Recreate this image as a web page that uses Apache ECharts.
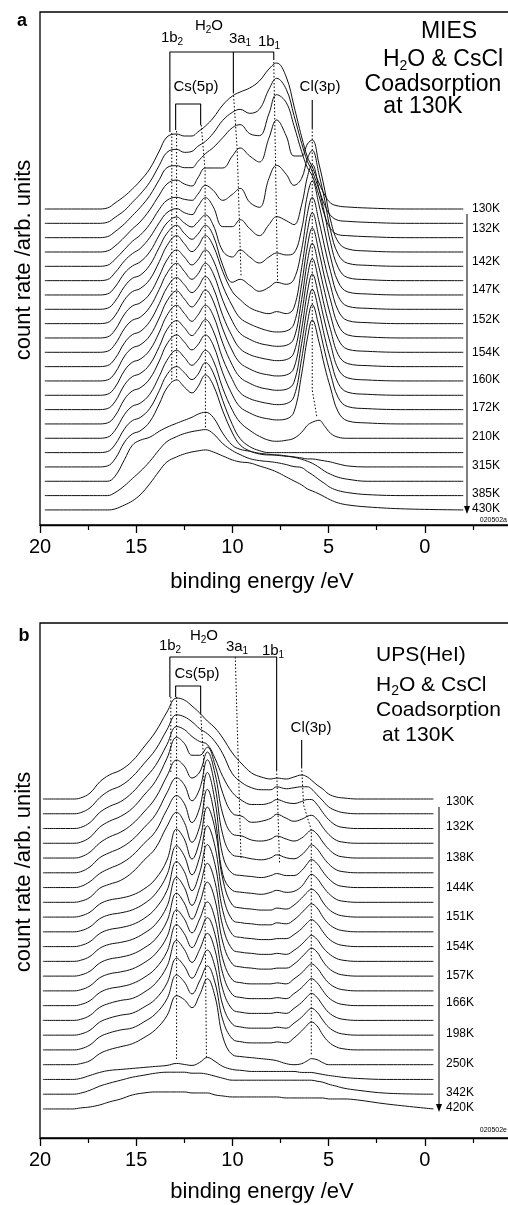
<!DOCTYPE html>
<html>
<head>
<meta charset="utf-8">
<script src="https://cdn.jsdelivr.net/npm/echarts@6/dist/echarts.min.js"></script>
<style>
  html, body { margin: 0; padding: 0; background: #fff; }
  #chart { width: 508px; height: 1205px; }
</style>
</head>
<body>
<div id="chart"></div>
<script>
const ENERGY_A = [19.75, 17, 16.5, 16.1, 15.6, 15.2, 14.8, 14.3, 13.8, 13.4, 12.9, 12.5, 12.1, 11.8, 11.4, 11, 10.5, 10, 9.6, 9.1, 8.6, 8.1, 7.7, 7.2, 6.8, 6.4, 6.1, 5.85, 5.5, 5.2, 4.9, 4.5, 4, 3, 1, -2];
const ENERGY_B = [19.85, 18.3, 17.9, 17.4, 16.9, 16.4, 15.8, 15.2, 14.6, 14, 13.4, 12.9, 12.5, 12.1, 11.7, 11.3, 10.9, 10.5, 10, 9.5, 9, 8.5, 8, 7.7, 7.2, 6.8, 6.4, 6.1, 5.9, 5.6, 5.3, 5, 4.6, 4.2, 3.5, 2, -0.45];

// MIES spectra, top to bottom (height above each curve's own baseline)
const MIES_01 = [0,0,1,6,13,20,28,40,58,72,75,73,73,77,83,91,104,113,117,121,128,140,146,132,103,72,52,42,26,14,6,3,2,1,0,0];
const MIES_02 = [0,0,1,6,13,21,29,41,58,71,74,71,72,77,82,90,103,111,114,110,114,134,145,134,108,80,62,52,34,18,8,3,2,1,0,0];
const MIES_03 = [0,0,1,6,14,22,30,42,58,70,72,70,70,76,84,90,100,110,113,104,102,124,143,135,112,86,70,62,42,22,9,3,2,1,0,0];
const MIES_04 = [0,0,1,6,15,23,30,42,57,68,72,68,66,74,84,84,84,96,104,96,90,114,132,116,96,96,108,112,88,62,32,10,3,1,0,0];
const MIES_05 = [0,0,1,7,17,25,31,42,57,66,69,67,66,72,81,76,66,72,78,64,59,88,101,92,81,88,108,116,92,66,36,12,3,1,0,0];
const MIES_06 = [0,0,1,8,20,27,32,43,58,68,72,68,66,74,83,74,54,54,61,52,45,56,64,60,56,76,104,116,92,66,38,13,3,1,0,0];
const MIES_07 = [0,0,1,8,22,29,33,43,60,72,78,72,68,73,80,70,44,38,45,38,32,38,42,40,42,66,100,114,90,64,38,13,3,1,0,0];
const MIES_08 = [0,0,1,8,23,31,34,44,62,76,84,76,70,75,84,74,44,27,30,24,18,22,27,25,30,60,96,112,88,62,38,13,3,1,0,0];
const MIES_09 = [0,0,1,8,24,32,35,44,62,78,88,80,72,77,88,78,52,32,24,16,12,10,12,10,16,56,93,111,86,60,38,13,3,1,0,0];
const MIES_10 = [0,0,1,8,24,32,35,44,62,78,88,81,73,78,88,78,52,32,20,14,10,7,6,7,14,54,92,110,86,60,38,13,3,1,0,0];
const MIES_11 = [0,0,1,8,24,32,35,45,63,79,89,81,73,78,89,79,52,31,19,13,9,7,6,7,14,53,91,109,85,60,37,13,3,1,0,0];
const MIES_12 = [0,0,1,8,24,32,35,45,63,79,89,82,74,79,90,79,51,30,18,12,9,7,6,7,14,53,90,108,85,59,37,12,3,1,0,0];
const MIES_13 = [0,0,1,8,25,33,36,45,63,80,90,82,74,80,91,80,52,30,18,12,8,6,5,6,13,52,89,107,84,59,37,12,3,1,0,0];
const MIES_14 = [0,0,1,8,25,33,36,45,63,80,90,82,74,80,90,80,52,30,18,12,8,6,5,6,13,52,88,106,84,58,36,12,3,1,0,0];
const MIES_15 = [0,0,1,8,25,33,36,45,63,80,89,82,74,80,90,79,51,30,17,11,8,6,5,6,13,51,87,105,83,58,36,12,3,1,0,0];
const MIES_16 = [0,0,1,8,25,33,36,45,63,80,89,82,74,79,89,79,51,29,17,11,7,5,4,5,12,50,86,104,82,57,36,12,3,1,0,0];
const MIES_17 = [0,0,1,8,24,32,35,44,62,78,88,81,73,78,88,78,50,28,16,8,2,-2,-3,-2,0,6,13,16,18,12,5,1,0,0,0,0];
const MIES_18 = [0,0,1,8,24,32,35,44,62,78,86,80,73,78,90,80,52,28,14,6,2,0,0,0,0,0,0,0,0,0,0,0,0,0,0,0];
const MIES_19 = [0,0,1,8,25,33,36,45,63,79,87,80,74,80,92,82,56,34,22,16,13,12,12,11,10,9,8,8,7,6,5,3,1,0,0,0];
const MIES_20 = [0,0,0,5,22,36,41,44,50,54,58,61,64,67,69,64,48,36,32,30,28,27,26,25,24,22,20,18,14,10,7,4,2,0,0,0];
const MIES_21 = [0,0,0,3,10,17,24,34,46,54,59,62,64,65,66,62,52,45,41,37,35,34,33,31,29,28,24,21,16,12,8,5,3,1,0,0];
const MIES_22 = [0,0,0,1,5,9,15,26,39,48,53,56,58,59,60,58,54,50,48,47,44,41,38,33,29,25,21,19,16,13,10,7,5,3,1,0];

// UPS(HeI) spectra, top to bottom
const UPS_01 = [0,0,1,6,17,24,29,38,52,67,87,101,99,93,86,78,71,61,46,35,26,22,20,21,20,22,24,22,19,14,10,5,2,1,0,0,0];
const UPS_02 = [0,0,1,6,16,23,28,37,50,64,84,99,97,92,85,80,72,60,40,31,26,24,24,27,25,26,27,27,25,19,13,7,3,1,0,0,0];
const UPS_03 = [0,0,1,6,16,22,27,36,49,63,84,102,99,92,87,84,70,52,36,28,24,24,26,29,26,25,27,29,29,24,16,9,3,1,0,0,0];
const UPS_04 = [0,0,1,6,16,22,27,35,48,62,85,106,100,88,88,96,78,50,30,27,21,22,25,29,25,22,24,27,28,24,16,9,3,1,0,0,0];
const UPS_05 = [0,0,1,6,15,21,26,34,46,60,82,98,92,80,86,106,84,44,24,22,18,17,19,22,19,17,20,25,28,24,16,9,3,1,0,0,0];
const UPS_06 = [0,0,1,6,15,20,25,33,45,58,80,95,88,72,84,113,86,38,18,16,14,13,15,18,15,14,18,24,28,24,16,9,3,1,0,0,0];
const UPS_07 = [0,0,1,6,14,19,24,32,44,56,78,92,84,65,80,115,86,32,14,12,11,10,12,14,12,12,17,24,28,24,16,9,3,1,0,0,0];
const UPS_08 = [0,0,1,5,14,18,22,30,42,54,76,90,80,60,76,113,84,28,12,10,9,8,10,12,10,11,16,24,28,24,16,9,3,1,0,0,0];
const UPS_09 = [0,0,1,5,13,17,19,22,28,38,57,88,78,58,76,110,88,38,12,9,8,7,7,9,8,12,19,25,28,24,15,8,3,1,0,0,0];
const UPS_10 = [0,0,1,5,13,17,19,22,28,38,57,86,76,57,75,106,85,37,12,9,8,7,7,9,8,12,19,25,28,24,15,8,3,1,0,0,0];
const UPS_11 = [0,0,1,5,13,17,19,22,28,38,56,85,75,56,74,102,82,36,12,9,8,7,7,8,8,12,18,24,27,23,15,8,3,1,0,0,0];
const UPS_12 = [0,0,1,5,13,17,19,22,28,37,55,84,74,56,74,98,79,35,12,9,8,7,7,8,7,11,17,23,26,22,14,8,3,1,0,0,0];
const UPS_13 = [0,0,1,5,13,17,19,22,28,37,55,83,73,57,73,94,76,34,12,9,8,7,7,8,8,12,19,25,28,24,15,8,3,1,0,0,0];
const UPS_14 = [0,0,1,5,13,17,19,22,28,37,54,81,72,58,72,89,72,32,11,8,7,7,7,8,7,12,18,24,27,23,15,8,3,1,0,0,0];
const UPS_15 = [0,0,1,5,13,17,19,22,28,37,54,81,72,58,72,88,71,32,11,8,7,7,7,8,7,12,18,24,27,23,15,8,3,1,0,0,0];
const UPS_16 = [0,0,1,5,13,17,20,22,28,37,54,80,71,58,71,87,70,31,11,8,7,7,7,8,7,12,18,24,27,23,15,8,3,1,0,0,0];
const UPS_17 = [0,0,1,5,13,17,20,22,28,36,52,77,69,57,70,85,68,30,11,8,7,7,7,8,7,12,18,24,27,23,15,8,3,1,0,0,0];
const UPS_18 = [0,0,1,5,13,17,20,22,28,36,51,75,68,56,69,84,67,30,11,8,7,7,7,8,7,12,19,25,28,24,15,8,3,1,0,0,0];
const UPS_19 = [0,0,1,4,11,15,18,21,27,35,49,69,65,57,70,86,68,28,10,8,7,6,5,4,1,0,1,4,6,5,2,0,0,0,0,0,0];
const UPS_20 = [0,0,1,4,7,9,10,11,12,13,14,16,15,14,17,22,18,13,10,9,8,8,8,8,8,8,7,7,7,6,5,4,3,2,1,0,0];
const UPS_21 = [0,0,1,4,8,11,14,17,19,21,22,22,22,21,21,20,18,16,14,14,14,14,14,14,14,14,14,14,14,13,12,10,8,6,4,1,0];
const UPS_22 = [0,0,1,2,4,7,10,14,16,17,17,17,17,16,16,16,14,13,12,12,12,12,12,12,11,11,11,11,11,11,11,10,10,10,9,5,0];

const CURVES_A = [MIES_01, MIES_02, MIES_03, MIES_04, MIES_05, MIES_06, MIES_07, MIES_08, MIES_09, MIES_10, MIES_11,
                  MIES_12, MIES_13, MIES_14, MIES_15, MIES_16, MIES_17, MIES_18, MIES_19, MIES_20, MIES_21, MIES_22];
const CURVES_B = [UPS_01, UPS_02, UPS_03, UPS_04, UPS_05, UPS_06, UPS_07, UPS_08, UPS_09, UPS_10, UPS_11,
                  UPS_12, UPS_13, UPS_14, UPS_15, UPS_16, UPS_17, UPS_18, UPS_19, UPS_20, UPS_21, UPS_22];

// temperature labels on the right and the curve row they sit at
const TEMPS_A = ['130K', '132K', '142K', '147K', '152K', '154K', '160K', '172K', '210K', '315K', '385K', '430K'];
const TEMP_ROWS_A = [0, 1.4, 3.7, 5.6, 7.7, 10, 11.9, 13.9, 15.9, 17.9, 19.9, 20.9];
const TEMPS_B = ['130K', '132K', '138K', '144K', '151K', '154K', '157K', '166K', '198K', '250K', '342K', '420K'];
const TEMP_ROWS_B = [0.2, 1.9, 4.0, 6.0, 8.0, 10.0, 12.0, 13.8, 15.9, 17.9, 19.9, 20.9];

const FONT = 'Liberation Sans, Arial, Helvetica, sans-serif';

// panel geometry (pixels)
const PANEL_A = { top: 12, bottom: 525, first: 209, step: 14.33 };
const PANEL_B = { top: 623, bottom: 1138, first: 799, step: 14.76 };

const chart = echarts.init(document.getElementById('chart'), null, { renderer: 'canvas' });

function curveSeries(energy, curves, panel, idx) {
  const top = panel.bottom - panel.first;
  return curves.map((c, i) => ({
    type: 'line',
    xAxisIndex: idx,
    yAxisIndex: idx,
    data: energy.map((e, j) => [e, top - i * panel.step + c[j]]),
    smooth: 0.4,
    symbol: 'none',
    silent: true,
    z: 2,
    lineStyle: { color: '#111', width: 1 }
  }));
}

// guide lines (brackets and dotted peak markers), points given as [eV, pixel y]
function guide(points, panel, idx, dotted) {
  return {
    type: 'line',
    xAxisIndex: idx,
    yAxisIndex: idx,
    data: points.map(p => [p[0], panel.bottom - p[1]]),
    symbol: 'none',
    silent: true,
    z: 3,
    lineStyle: { color: '#000', width: dotted ? 1 : 1.1, type: dotted ? [1.5, 2] : 'solid' }
  };
}

const guidesA = [
  guide([[13.25, 132], [13.25, 52], [7.85, 52], [7.85, 60]], PANEL_A, 0, false),
  guide([[9.95, 52], [9.95, 92]], PANEL_A, 0, false),
  guide([[12.95, 130], [12.95, 104], [11.65, 104], [11.65, 125]], PANEL_A, 0, false),
  guide([[5.85, 100], [5.85, 128]], PANEL_A, 0, false),
  guide([[13.15, 133], [13.15, 382]], PANEL_A, 0, true),
  guide([[12.9, 131], [12.9, 380]], PANEL_A, 0, true),
  guide([[11.62, 125], [11.42, 170], [11.4, 428]], PANEL_A, 0, true),
  guide([[9.95, 92], [9.75, 150], [9.55, 277]], PANEL_A, 0, true),
  guide([[7.85, 62], [7.65, 283]], PANEL_A, 0, true),
  guide([[5.85, 128], [5.85, 390], [5.6, 418]], PANEL_A, 0, true)
];
const guidesB = [
  guide([[13.25, 697], [13.25, 657], [7.7, 657], [7.7, 770]], PANEL_B, 1, false),
  guide([[12.95, 697], [12.95, 686], [11.65, 686], [11.65, 713]], PANEL_B, 1, false),
  guide([[6.4, 740], [6.4, 767]], PANEL_B, 1, false),
  guide([[13.2, 697], [13.2, 773]], PANEL_B, 1, true),
  guide([[12.9, 697], [12.9, 1060]], PANEL_B, 1, true),
  guide([[11.65, 713], [11.5, 757], [11.35, 1057]], PANEL_B, 1, true),
  guide([[9.85, 657], [9.55, 860]], PANEL_B, 1, true),
  guide([[7.7, 770], [7.55, 863]], PANEL_B, 1, true),
  guide([[6.4, 767], [6.3, 805], [5.9, 830], [5.9, 1055]], PANEL_B, 1, true)
];

function xAxisFor(idx) {
  return {
    gridIndex: idx,
    type: 'value',
    inverse: true,
    min: -5,
    max: 20,
    interval: 5,
    axisLine: { show: true, lineStyle: { color: '#000', width: 1.3 } },
    axisTick: { show: true, length: 8, lineStyle: { color: '#000', width: 1.3 } },
    minorTick: { show: true, splitNumber: 2, length: 5, lineStyle: { color: '#000', width: 1.2 } },
    splitLine: { show: false },
    axisLabel: {
      fontSize: 20, color: '#000', margin: 12, fontFamily: FONT,
      formatter: v => (v < 0 ? '' : String(v))
    }
  };
}

function yAxisFor(idx, panel) {
  return { gridIndex: idx, type: 'value', min: 0, max: panel.bottom - panel.top, show: false };
}

// text helpers
const SUB = { s: { fontSize: 10, padding: [9, 0, 0, 0], fontFamily: FONT } };
const SUB_BIG = { s: { fontSize: 14, padding: [12, 0, 0, 0], fontFamily: FONT } };

function txt(x, y, text, size, opts) {
  opts = opts || {};
  return {
    type: 'text',
    x: x, y: y,
    rotation: opts.rotation || 0,
    z: 10,
    style: {
      text: text,
      fill: '#000',
      fontSize: size,
      fontFamily: FONT,
      fontWeight: opts.bold ? 'bold' : 'normal',
      align: opts.align || 'center',
      verticalAlign: 'middle',
      rich: opts.rich
    }
  };
}

function tempLabels(temps, rows, panel, x) {
  return temps.map((t, i) => txt(x, panel.first + rows[i] * panel.step, t, 12, { align: 'left' }));
}

function sideArrow(x, y1, y2) {
  return [
    { type: 'line', z: 10, shape: { x1: x, y1: y1, x2: x, y2: y2 - 6 }, style: { stroke: '#000', lineWidth: 1 } },
    { type: 'polygon', z: 10, shape: { points: [[x - 3, y2 - 8], [x + 3, y2 - 8], [x, y2]] }, style: { fill: '#000' } }
  ];
}

const graphics = [
  // panel letters
  txt(22, 21, 'a', 18, { bold: true }),
  txt(24, 636, 'b', 18, { bold: true }),
  // axis titles
  txt(262, 582, 'binding energy /eV', 22),
  txt(262, 1192, 'binding energy /eV', 22),
  txt(24, 260, 'count rate /arb. units', 22, { rotation: Math.PI / 2 }),
  txt(24, 872, 'count rate /arb. units', 22, { rotation: Math.PI / 2 }),
  // panel a titles
  txt(449, 32, 'MIES', 23),
  txt(443, 60, 'H{s|2}O & CsCl', 23, { rich: SUB_BIG }),
  txt(433, 85, 'Coadsorption', 23),
  txt(423, 107, 'at 130K', 23),
  // panel b titles
  txt(376, 655, 'UPS(HeI)', 21, { align: 'left' }),
  txt(376, 685, 'H{s|2}O & CsCl', 21, { align: 'left', rich: SUB_BIG }),
  txt(376, 710, 'Coadsorption', 21, { align: 'left' }),
  txt(382, 735, 'at 130K', 21, { align: 'left' }),
  // peak labels panel a
  txt(172, 38, '1b{s|2}', 15, { rich: SUB }),
  txt(209, 26, 'H{s|2}O', 15, { rich: SUB }),
  txt(240, 39, '3a{s|1}', 15, { rich: SUB }),
  txt(269, 42, '1b{s|1}', 15, { rich: SUB }),
  txt(196, 87, 'Cs(5p)', 15),
  txt(320, 87, 'Cl(3p)', 15),
  // peak labels panel b
  txt(170, 646, '1b{s|2}', 15, { rich: SUB }),
  txt(204, 636, 'H{s|2}O', 15, { rich: SUB }),
  txt(237, 647, '3a{s|1}', 15, { rich: SUB }),
  txt(273, 651, '1b{s|1}', 15, { rich: SUB }),
  txt(197, 674, 'Cs(5p)', 15),
  txt(311, 728, 'Cl(3p)', 15),
  // tiny figure codes
  txt(507, 520, '020502a', 7, { align: 'right' }),
  txt(507, 1130, '020502e', 7, { align: 'right' })
]
  .concat(tempLabels(TEMPS_A, TEMP_ROWS_A, PANEL_A, 472))
  .concat(tempLabels(TEMPS_B, TEMP_ROWS_B, PANEL_B, 446))
  .concat(sideArrow(467, 214, 514))
  .concat(sideArrow(439, 807, 1112));

const option = {
  animation: false,
  backgroundColor: '#fff',
  grid: [
    { left: 40, width: 481, top: PANEL_A.top, height: PANEL_A.bottom - PANEL_A.top, outerBoundsMode: 'none',
      containLabel: false, show: true, borderColor: '#000', borderWidth: 1.3 },
    { left: 40, width: 481, top: PANEL_B.top, height: PANEL_B.bottom - PANEL_B.top, outerBoundsMode: 'none',
      containLabel: false, show: true, borderColor: '#000', borderWidth: 1.3 }
  ],
  xAxis: [xAxisFor(0), xAxisFor(1)],
  yAxis: [yAxisFor(0, PANEL_A), yAxisFor(1, PANEL_B)],
  series: []
    .concat(curveSeries(ENERGY_A, CURVES_A, PANEL_A, 0))
    .concat(curveSeries(ENERGY_B, CURVES_B, PANEL_B, 1))
    .concat(guidesA)
    .concat(guidesB),
  graphic: graphics
};

chart.setOption(option);
window.addEventListener('resize', () => chart.resize());
</script>
</body>
</html>
